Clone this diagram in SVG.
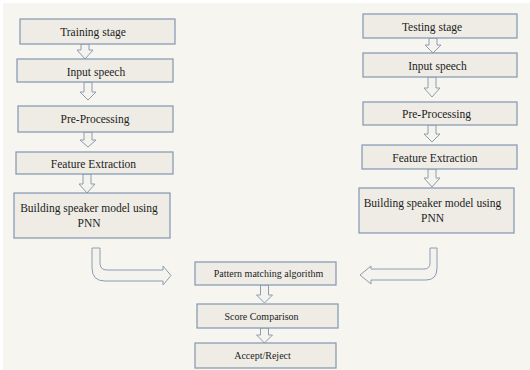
<svg xmlns="http://www.w3.org/2000/svg" width="530" height="370" viewBox="0 0 530 370">
<style>
.box{fill:#eeece5;stroke:#8396b1;stroke-width:1.2}
.t{font-family:"Liberation Serif","Times New Roman",serif;font-size:11.5px;fill:#1c1c1c;text-anchor:middle}
.s{font-size:10px}
.arr{fill:#f4f3ee;stroke:#8e9cb2;stroke-width:1}
</style>
<rect width="530" height="370" fill="#ffffff"/>
<rect x="3" y="3" width="527" height="367" fill="#f6f5f0"/>

<g id="connectors">
<path class="arr" d="M81,44 H89 V50 H93 L85,59 L77,50 H81 Z"/>
<path class="arr" d="M84,82 H92 V92 H96 L88,100 L80,92 H84 Z"/>
<path class="arr" d="M84,132 H92 V140 H96 L88,147 L80,140 H84 Z"/>
<path class="arr" d="M83,174 H91 V184 H95 L87,193 L79,184 H83 Z"/>
<path class="arr" d="M429,38 H437 V45 H441 L433,53 L425,45 H429 Z"/>
<path class="arr" d="M428,77 H436 V88 H440 L432,97 L424,88 H428 Z"/>
<path class="arr" d="M428,125 H436 V134 H440 L432,142 L424,134 H428 Z"/>
<path class="arr" d="M428,169 H436 V178 H440 L432,187 L424,178 H428 Z"/>
<path class="arr" d="M260.5,285 H268.5 V295 H272.5 L264.5,303 L256.5,295 H260.5 Z"/>
<path class="arr" d="M260.5,328 H268.5 V335 H272.5 L264.5,343 L256.5,335 H260.5 Z"/>
<path class="arr" d="M92,248 H100 V263 Q100,270 107,270 H163 V266 L171,275.5 L163,285 V281 H105 Q92,281 92,268 Z"/>
<path class="arr" d="M437,248 H430 V263 Q430,269 424,269 H371 V266 L360,275 L371,284 V280 H426 Q437,280 437,268 Z"/>
</g>

<g id="training-stage"><rect class="box" x="20" y="19" width="155" height="25"/><text class="t" x="93" y="36">Training stage</text></g>
<g id="input-speech-left"><rect class="box" x="17" y="59" width="156" height="23"/><text class="t" x="96" y="75.5">Input speech</text></g>
<g id="preprocessing-left"><rect class="box" x="18" y="106" width="155" height="26"/><text class="t" x="95" y="123">Pre-Processing</text></g>
<g id="feature-left"><rect class="box" x="16" y="152" width="157" height="22"/><text class="t" x="93.5" y="167.5">Feature Extraction</text></g>
<g id="building-left"><rect class="box" x="14" y="193" width="156" height="45"/><text class="t" x="89" y="212">Building speaker model using</text><text class="t" x="89" y="227">PNN</text></g>

<g id="testing-stage"><rect class="box" x="363" y="14" width="154" height="24"/><text class="t" x="432" y="31">Testing stage</text></g>
<g id="input-speech-right"><rect class="box" x="363" y="53" width="154" height="24"/><text class="t" x="437.5" y="70">Input speech</text></g>
<g id="preprocessing-right"><rect class="box" x="363" y="102" width="154" height="23"/><text class="t" x="436.5" y="118">Pre-Processing</text></g>
<g id="feature-right"><rect class="box" x="362" y="145" width="155" height="24"/><text class="t" x="435" y="161.5">Feature Extraction</text></g>
<g id="building-right"><rect class="box" x="359" y="188" width="155" height="45"/><text class="t" x="432.5" y="207">Building speaker model using</text><text class="t" x="432.5" y="222">PNN</text></g>

<g id="pattern-matching"><rect class="box" x="195" y="262" width="141" height="23"/><text class="t s" x="268.5" y="277">Pattern matching algorithm</text></g>
<g id="score-comparison"><rect class="box" x="197" y="304" width="141" height="24"/><text class="t s" x="261.5" y="319.5">Score Comparison</text></g>
<g id="accept-reject"><rect class="box" x="195" y="343" width="141" height="25"/><text class="t s" x="262.5" y="359">Accept/Reject</text></g>
</svg>
